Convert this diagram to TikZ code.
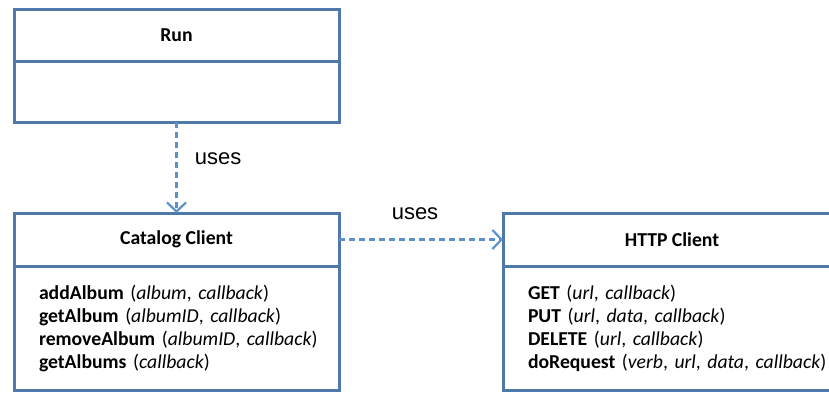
\documentclass[tikz,border=0pt]{standalone}
\usepackage{fontspec}
\setmainfont{Carlito}
\newfontfamily\arialfont{Liberation Sans}
\usetikzlibrary{positioning,arrows.meta}
\definecolor{boxblue}{RGB}{79,121,169}
\definecolor{arrowblue}{RGB}{92,145,206}
\newcommand{\opline}[2]{\mbox{\textbf{#1} (#2)}}
\tikzset{
  classhead/.style={draw=boxblue, line width=3pt, rectangle, outer sep=0pt, anchor=north west,
    minimum height=53pt, font=\fontsize{19.7}{23}\selectfont\bfseries},
  classbody/.style={draw=boxblue, line width=3pt, rectangle, outer sep=0pt, inner xsep=25pt,
    align=left, font=\fontsize{19.7}{23}\selectfont},
  uses/.style={draw=arrowblue, line width=2.2pt, dash pattern=on 6pt off 4pt,
    -{Straight Barb[length=9pt,width=19pt]}},
  useslabel/.style={font=\arialfont\fontsize{22}{24}\selectfont, text=black}
}
\begin{document}
\begin{tikzpicture}[x=1pt,y=-1pt]
  \useasboundingbox (0,0) rectangle (829,392);

  % Run
  \node[classhead, minimum width=325pt, minimum height=52.5pt] (runhead) at (14,9) {Run};
  \node[classbody, minimum width=325pt, minimum height=60.5pt, text width=275pt, below=0pt of runhead] (runbody) {};

  % Catalog Client
  \node[classhead, minimum width=325pt] (cathead) at (14,213) {Catalog Client};
  \node[classbody, minimum width=325pt, minimum height=124pt, text width=275pt, below=0pt of cathead] (catbody) {%
    \opline{addAlbum}{\textit{album}, \textit{callback}}\\
    \opline{getAlbum}{\textit{albumID}, \textit{callback}}\\
    \opline{removeAlbum}{\textit{albumID}, \textit{callback}}\\
    \opline{getAlbums}{\textit{callback}}};

  % HTTP Client
  \node[classhead, minimum width=338pt] (httphead) at (503,213) {HTTP Client};
  \node[classbody, minimum width=338pt, minimum height=124pt, text width=288pt, below=0pt of httphead] (httpbody) {%
    \opline{GET}{\textit{url}, \textit{callback}}\\
    \opline{PUT}{\textit{url}, \textit{data}, \textit{callback}}\\
    \opline{DELETE}{\textit{url}, \textit{callback}}\\
    \opline{doRequest}{\textit{verb}, \textit{url}, \textit{data}, \textit{callback}}};

  \draw[uses] (runbody.south) to node[useslabel, pos=0.4, right=14pt] (uses1) {uses} (cathead.north);
  \draw[uses] (cathead.east) to node[useslabel, above=15pt, xshift=-6pt] (uses2) {uses} (httphead.west);

\end{tikzpicture}
\end{document}
